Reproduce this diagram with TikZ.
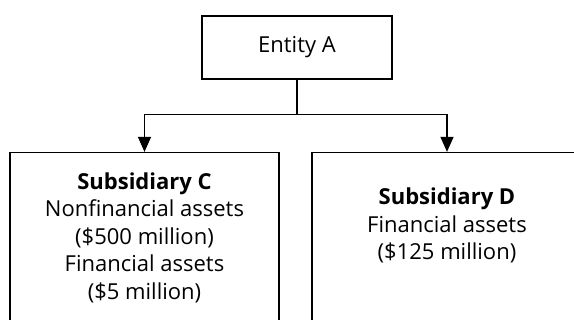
\documentclass[tikz,border=0pt]{standalone}
\usepackage{fontspec}
\setmainfont[Ligatures=NoCommon]{Open Sans}
\usetikzlibrary{arrows.meta}

\begin{document}
\begin{tikzpicture}[x=1pt,y=1pt,->,>={Triangle[width=13pt,length=15pt]},line width=1.2pt,node distance=190pt,entity node/.style={rectangle,draw,align=center,font=\fontsize{22}{27.5}\selectfont}]
            \useasboundingbox (0,0) rectangle (574,320);
            \clip (0,0) rectangle (574,320);
            \node[entity node,minimum width=190pt,minimum height=63pt] (A) at (297,272.5) {Entity A};
            \node[entity node,minimum width=269pt,minimum height=170pt] (C) [below of=A,xshift=-152.5pt] {\textbf{Subsidiary C}\\Nonfinancial assets\\(\$500 million)\\Financial assets\\(\$5 million)};
            \node[entity node,minimum width=270pt,minimum height=170pt] (D) [below of=A,xshift=150pt] {\textbf{Subsidiary D}\\Financial assets\\(\$125 million)\\\mbox{}};

            \path
                    (A.south) edge[to path={-- ++(0,-35) -| (\tikztotarget)}] (C)
                    (A.south) edge[to path={-- ++(0,-35) -| (\tikztotarget)}] (D)
                ;
        \end{tikzpicture}
\end{document}
